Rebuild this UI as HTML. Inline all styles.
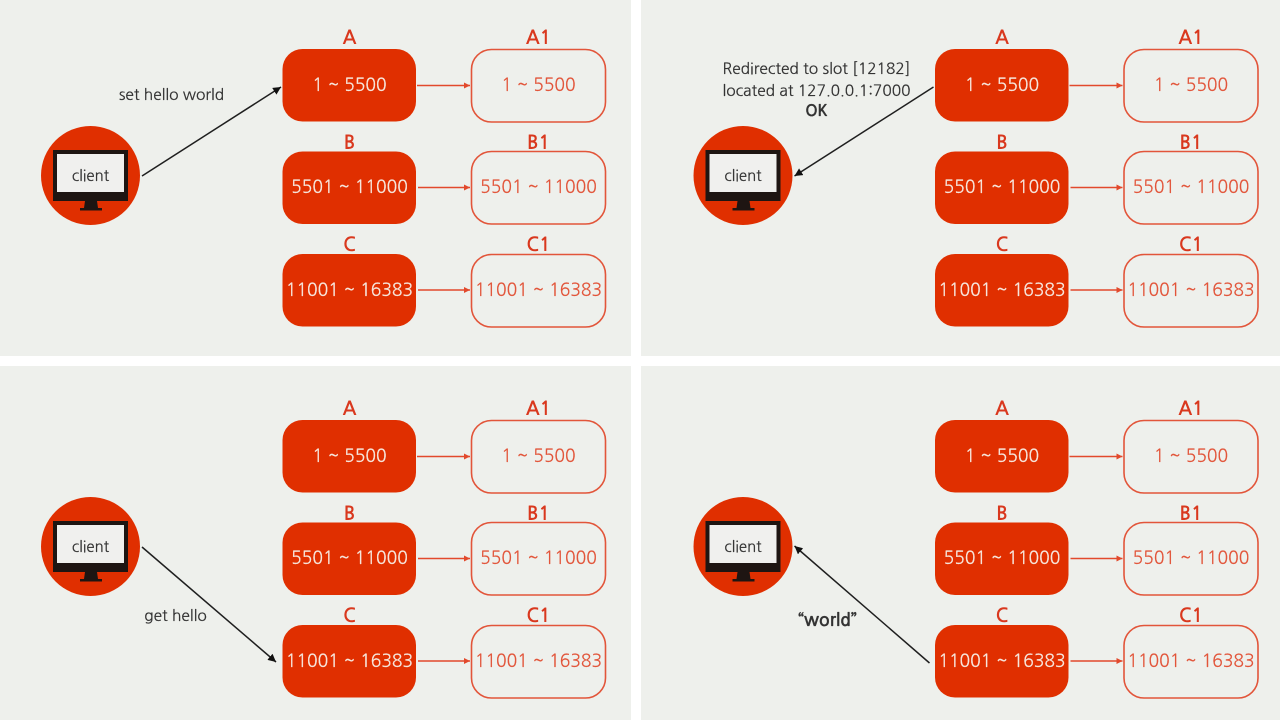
<!DOCTYPE html>
<html><head><meta charset="utf-8"><style>
html,body{margin:0;padding:0;background:#fff;width:1280px;height:720px;overflow:hidden}
svg{display:block;filter:blur(.35px)}
text{font-family:"NanumGothic","Liberation Sans",sans-serif;text-anchor:middle;transform:translateY(1px)}
.h{font-size:19px;font-weight:700;fill:#d9381e}
.w{font-size:17.500px;fill:#f6e6dc;stroke:#f6e6dc;stroke-width:.2}
.r{font-size:17.500px;fill:#e2553a;stroke:#e2553a;stroke-width:.15}
.k{font-size:15.500px;fill:#333;stroke:#333;stroke-width:.2}
.c{font-size:15px;fill:#333;stroke:#333;stroke-width:.2}
.f{fill:#e02f00}
.o{fill:none;stroke:#e2553a;stroke-width:1.600}
.l{stroke:#e2492c;stroke-width:1.500}
.b{stroke:#1f1f1f;stroke-width:1.500}
</style></head><body>
<svg width="1280" height="720" viewBox="0 0 1280 720" xmlns="http://www.w3.org/2000/svg">
<defs>
<marker id="ar" markerUnits="userSpaceOnUse" markerWidth="8" markerHeight="8" refX="6" refY="3" orient="auto"><path d="M0 0L6 3L0 6z" fill="#e2492c"/></marker>
<marker id="ab" markerUnits="userSpaceOnUse" markerWidth="10" markerHeight="10" refX="8" refY="4" orient="auto"><path d="M0 0L8 4L0 8z" fill="#111"/></marker>
<g id="mon">
<circle cx="90.500" cy="175.500" r="49.500" class="f"/>
<rect x="53" y="150" width="75" height="51" fill="#1e1512"/>
<rect x="57" y="154" width="67" height="38" fill="#f0f0ee"/>
<path d="M85 201H97L98 208H102V210.500H80V208H84z" fill="#1e1512"/>
</g>
<g id="boxes">
<rect x="282.500" y="49" width="133.500" height="72.500" rx="20" class="f"/>
<rect x="282.500" y="151.500" width="133.500" height="72.500" rx="20" class="f"/>
<rect x="282.500" y="254" width="133.500" height="72.500" rx="20" class="f"/>
<rect x="471.500" y="49.500" width="134" height="72.500" rx="20" class="o"/>
<rect x="471.500" y="151.500" width="134" height="72.500" rx="20" class="o"/>
<rect x="471.500" y="254.500" width="134" height="72.500" rx="20" class="o"/>
<line x1="417" y1="85.500" x2="470" y2="85.500" class="l" marker-end="url(#ar)"/>
<line x1="418" y1="187.500" x2="470" y2="187.500" class="l" marker-end="url(#ar)"/>
<line x1="418" y1="290" x2="470" y2="290" class="l" marker-end="url(#ar)"/>
</g>
</defs>
<rect x="0" y="0" width="631" height="356" fill="#eef0ec"/>
<rect x="641" y="0" width="639" height="356" fill="#eef0ec"/>
<rect x="0" y="366" width="631" height="354" fill="#eef0ec"/>
<rect x="641" y="366" width="639" height="354" fill="#eef0ec"/>

<g>
<use href="#mon"/><use href="#boxes"/>
<text x="90.500" y="180" class="c">client</text>
<text x="349.500" y="43" class="h">A</text><text x="538.500" y="43" class="h">A1</text>
<text x="349.500" y="148" class="h">B</text><text x="538.500" y="148" class="h">B1</text>
<text x="349.500" y="250" class="h">C</text><text x="538.500" y="250" class="h">C1</text>
<text x="349.500" y="90" class="w">1 ~ 5500</text><text x="538.500" y="90" class="r">1 ~ 5500</text>
<text x="349.500" y="192" class="w">5501 ~ 11000</text><text x="538.500" y="192" class="r">5501 ~ 11000</text>
<text x="349.500" y="295" class="w">11001 ~ 16383</text><text x="538.500" y="295" class="r">11001 ~ 16383</text>
<line x1="142" y1="176" x2="281" y2="87" class="b" marker-end="url(#ab)"/>
<text x="171.500" y="99" class="k">set hello world</text>
</g>

<g transform="translate(652.500 0)">
<use href="#mon"/><use href="#boxes"/>
<text x="90.500" y="180" class="c">client</text>
<text x="349.500" y="43" class="h">A</text><text x="538.500" y="43" class="h">A1</text>
<text x="349.500" y="148" class="h">B</text><text x="538.500" y="148" class="h">B1</text>
<text x="349.500" y="250" class="h">C</text><text x="538.500" y="250" class="h">C1</text>
<text x="349.500" y="90" class="w">1 ~ 5500</text><text x="538.500" y="90" class="r">1 ~ 5500</text>
<text x="349.500" y="192" class="w">5501 ~ 11000</text><text x="538.500" y="192" class="r">5501 ~ 11000</text>
<text x="349.500" y="295" class="w">11001 ~ 16383</text><text x="538.500" y="295" class="r">11001 ~ 16383</text>
<line x1="281" y1="87" x2="142" y2="176" class="b" marker-end="url(#ab)"/>
<text x="164" y="73" class="k">Redirected to slot [12182]</text>
<text x="164" y="95" class="k">located at 127.0.0.1:7000</text>
<text x="164" y="115" class="k" font-weight="700">OK</text>
</g>

<g transform="translate(0 371)">
<use href="#mon"/><use href="#boxes"/>
<text x="90.500" y="180" class="c">client</text>
<text x="349.500" y="43" class="h">A</text><text x="538.500" y="43" class="h">A1</text>
<text x="349.500" y="148" class="h">B</text><text x="538.500" y="148" class="h">B1</text>
<text x="349.500" y="250" class="h">C</text><text x="538.500" y="250" class="h">C1</text>
<text x="349.500" y="90" class="w">1 ~ 5500</text><text x="538.500" y="90" class="r">1 ~ 5500</text>
<text x="349.500" y="192" class="w">5501 ~ 11000</text><text x="538.500" y="192" class="r">5501 ~ 11000</text>
<text x="349.500" y="295" class="w">11001 ~ 16383</text><text x="538.500" y="295" class="r">11001 ~ 16383</text>
<line x1="142" y1="176" x2="276" y2="291" class="b" marker-end="url(#ab)"/>
<text x="175.500" y="249" class="k">get hello</text>
</g>

<g transform="translate(652.500 371)">
<use href="#mon"/><use href="#boxes"/>
<text x="90.500" y="180" class="c">client</text>
<text x="349.500" y="43" class="h">A</text><text x="538.500" y="43" class="h">A1</text>
<text x="349.500" y="148" class="h">B</text><text x="538.500" y="148" class="h">B1</text>
<text x="349.500" y="250" class="h">C</text><text x="538.500" y="250" class="h">C1</text>
<text x="349.500" y="90" class="w">1 ~ 5500</text><text x="538.500" y="90" class="r">1 ~ 5500</text>
<text x="349.500" y="192" class="w">5501 ~ 11000</text><text x="538.500" y="192" class="r">5501 ~ 11000</text>
<text x="349.500" y="295" class="w">11001 ~ 16383</text><text x="538.500" y="295" class="r">11001 ~ 16383</text>
<line x1="277" y1="292" x2="142" y2="175" class="b" marker-end="url(#ab)"/>
<text x="175" y="254" class="k" font-weight="700" style="font-size:17.500px">“world”</text>
</g>
</svg>
</body></html>
